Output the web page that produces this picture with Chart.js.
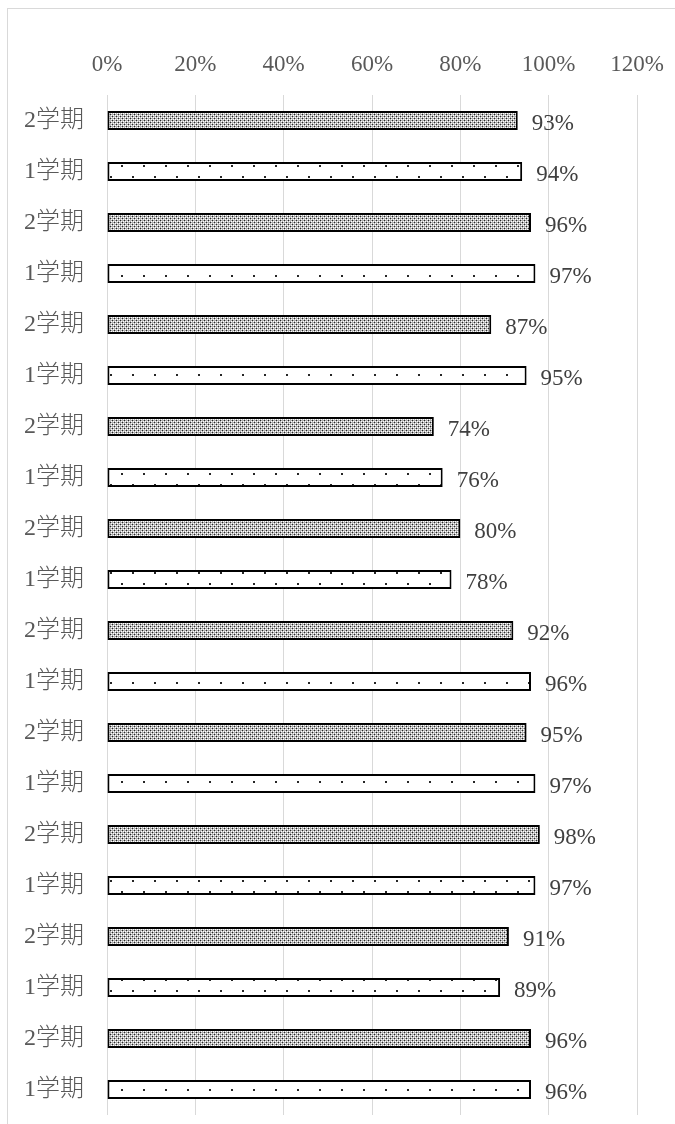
<!DOCTYPE html>
<html>
<head>
<meta charset="utf-8">
<script src="https://cdn.jsdelivr.net/npm/chart.js@4"></script>
<style>
  html, body { margin: 0; padding: 0; background: #fff; }
  #wrap { position: relative; width: 675px; height: 1124px; }
  #frame { position: absolute; left: 7px; top: 8px; right: -2px; bottom: -2px; border: 1px solid #d9d9d9; }
  canvas { position: absolute; left: 0; top: 0; }
</style>
</head>
<body>
<div id="wrap">
  <div id="frame"></div>
  <canvas id="chart" width="675" height="1124"></canvas>
</div>
<script>
// top to bottom
const labels = ['2学期', '1学期', '2学期', '1学期', '2学期', '1学期', '2学期', '1学期', '2学期', '1学期',
                '2学期', '1学期', '2学期', '1学期', '2学期', '1学期', '2学期', '1学期', '2学期', '1学期'];
const values = [93, 94, 96, 97, 87, 95, 74, 76, 80, 78, 92, 96, 95, 97, 98, 97, 91, 89, 96, 96];
const xTicks = [0, 20, 40, 60, 80, 100, 120];

const fontFamily = "'Liberation Serif', 'Noto Sans CJK JP', serif";

function densePattern(ctx) {
  const c = document.createElement('canvas');
  c.width = 4; c.height = 4;
  const g = c.getContext('2d');
  g.fillStyle = '#b0b0b0';
  g.fillRect(0, 0, 4, 4);
  g.fillStyle = '#ffffff';
  g.fillRect(1, 1, 1, 1); g.fillRect(3, 3, 1, 1);
  g.fillRect(3, 1, 1, 1); g.fillRect(1, 3, 1, 1);
  g.fillStyle = '#262626';
  g.fillRect(0, 0, 1, 1); g.fillRect(2, 2, 1, 1);
  return ctx.createPattern(c, 'repeat');
}

function sparsePattern(ctx) {
  const c = document.createElement('canvas');
  c.width = 22; c.height = 22;
  const g = c.getContext('2d');
  g.fillStyle = '#fff';
  g.fillRect(0, 0, 22, 22);
  g.fillStyle = '#262626';
  g.fillRect(0, 0, 2, 2);
  g.fillRect(11, 11, 2, 2);
  return ctx.createPattern(c, 'repeat');
}

const ctx = document.getElementById('chart').getContext('2d');
const dense = densePattern(ctx);
const sparse = sparsePattern(ctx);
const fills = labels.map(l => l === '2学期' ? dense : sparse);

const valueLabels = {
  id: 'valueLabels',
  afterDatasetsDraw(chart) {
    const c = chart.ctx;
    const meta = chart.getDatasetMeta(0);
    c.save();
    c.font = '23px ' + fontFamily;
    c.fillStyle = '#404040';
    c.textAlign = 'left';
    c.textBaseline = 'middle';
    meta.data.forEach((bar, i) => {
      c.fillText(values[i] + '%', bar.x + 14, bar.y + 3);
    });
    c.restore();
  }
};

new Chart(ctx, {
  type: 'bar',
  data: {
    labels: labels,
    datasets: [{
      data: values,
      backgroundColor: fills,
      borderColor: '#000',
      borderWidth: 2,
      borderSkipped: false,
      barPercentage: 0.37,
      categoryPercentage: 1.0
    }]
  },
  options: {
    indexAxis: 'y',
    responsive: false,
    animation: false,
    events: [],
    layout: { padding: { left: 8, right: 38, top: 0, bottom: 9 } },
    plugins: { legend: { display: false }, tooltip: { enabled: false } },
    scales: {
      x: {
        position: 'top',
        min: 0,
        max: 120,
        afterBuildTicks(axis) { axis.ticks = xTicks.map(v => ({ value: v })); },
        afterFit(axis) { axis.height = 95; axis.paddingLeft = 0; axis.paddingRight = 0; },
        border: { display: false },
        grid: { color: '#d9d9d9', lineWidth: 1, drawTicks: false },
        ticks: {
          padding: 16,
          color: '#595959',
          font: { family: fontFamily, size: 23 },
          callback: v => v + '%'
        }
      },
      y: {
        afterFit(axis) { axis.width = 99; axis.paddingTop = 0; axis.paddingBottom = 0; },
        border: { display: false },
        grid: { display: false },
        ticks: {
          padding: 15,
          color: '#595959',
          font: { family: fontFamily, size: 24, weight: 300 }
        }
      }
    }
  },
  plugins: [valueLabels]
});
</script>
</body>
</html>
